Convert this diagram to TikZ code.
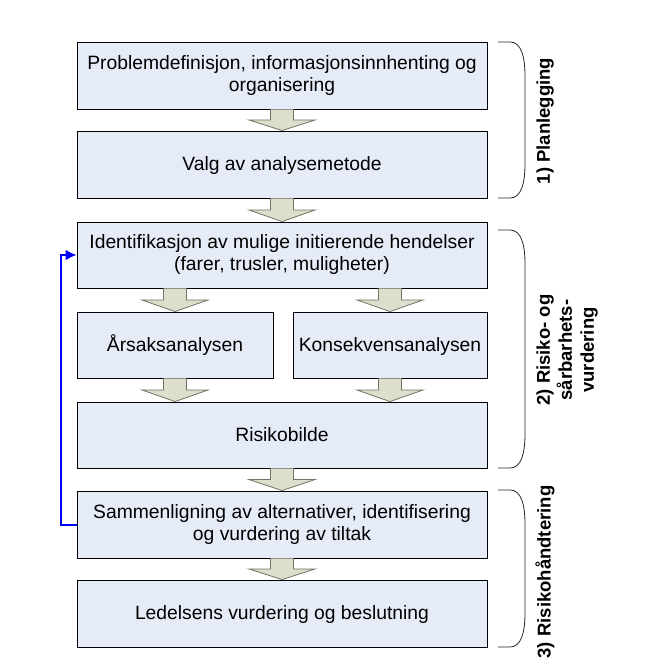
\documentclass[tikz,border=0pt]{standalone}
\usepackage{fontspec}
\setmainfont{Liberation Sans}
\usetikzlibrary{calc,arrows.meta}
\definecolor{boxfill}{RGB}{230,236,247}
\definecolor{arrfill}{RGB}{220,223,203}
\definecolor{arrline}{RGB}{115,115,100}
\definecolor{fbblue}{RGB}{0,0,255}
\tikzset{
  procbox/.style={draw=black, line width=0.9pt, fill=boxfill, minimum height=67pt,
    inner sep=0pt, align=center, font=\fontsize{19.3}{22}\selectfont},
  fatarrow/.style={fill=arrfill, draw=arrline, line width=0.8pt, line join=miter},
  bracket/.style={draw=black!85, line width=0.8pt},
  phaselabel/.style={rotate=90, align=center, inner sep=0pt, font=\fontsize{18.5}{22}\selectfont\bfseries},
}
\newcommand{\fatarr}[2]{%
  \fill[fatarrow, draw=none] let \p1=(#1), \p2=(#2), \p3=($(#1)!.5!(#2)$) in
    (\x1-11.5pt,\y1) -- (\x1-11.5pt,\y3) -- (\x1-33pt,\y3) -- (\x2,\y2) -- (\x1+33pt,\y3) -- (\x1+11.5pt,\y3) -- (\x1+11.5pt,\y1) -- cycle;
  \draw[fatarrow, fill=none] let \p1=(#1), \p2=(#2), \p3=($(#1)!.5!(#2)$) in
    (\x1-11.5pt,\y1) -- (\x1-11.5pt,\y3) -- (\x1-33pt,\y3) -- (\x2,\y2) -- (\x1+33pt,\y3) -- (\x1+11.5pt,\y3) -- (\x1+11.5pt,\y1);}
\newcommand{\phasebrace}[2]{%
  \draw[bracket] (498,#1) -- (510,#1) .. controls (521,#1) and (525,#1+14) .. (525,#1+34)
    -- (525,#2-34) .. controls (525,#2-14) and (521,#2) .. (510,#2) -- (498,#2);}
\begin{document}
\begin{tikzpicture}[x=1pt,y=-1pt]
\useasboundingbox (0,0) rectangle (655,671);

\node[procbox, minimum width=410pt] (prob) at (282,75.5) {Problemdefinisjon, informasjonsinnhenting og\\organisering};
\node[procbox, minimum width=410pt] (valg) at (282,164.5) {Valg av analysemetode\vphantom{Åg}};
\node[procbox, minimum width=410pt, minimum height=66pt] (ident) at (282,255) {Identifikasjon av mulige initierende hendelser\\(farer, trusler, muligheter)};
\node[procbox, minimum width=196pt, minimum height=66pt] (aars) at (175,345) {Årsaksanalysen\vphantom{Åg}};
\node[procbox, minimum width=194pt, minimum height=66pt] (kons) at (390,345) {Konsekvensanalysen\vphantom{Åg}};
\node[procbox, minimum width=410pt, minimum height=66pt] (risk) at (282,435) {Risikobilde\vphantom{Åg}};
\node[procbox, minimum width=410pt] (samm) at (282,524.5) {Sammenligning av alternativer, identifisering\\og vurdering av tiltak};
\node[procbox, minimum width=410pt] (led) at (282,613.5) {Ledelsens vurdering og beslutning\vphantom{Åg}};

\fatarr{prob.south}{valg.north}
\fatarr{valg.south}{ident.north}
\fatarr{ident.south -| aars.north}{aars.north}
\fatarr{ident.south -| kons.north}{kons.north}
\fatarr{aars.south}{aars.south |- risk.north}
\fatarr{kons.south}{kons.south |- risk.north}
\fatarr{risk.south}{samm.north}
\fatarr{samm.south}{led.north}

\draw[fbblue, line width=2pt, -{Latex[length=11pt,width=11pt]}] (samm.west) -- ++(-16pt,0) |- (ident.west);

\phasebrace{42}{198}
\phasebrace{230}{468}
\phasebrace{490}{647}

\node[phaselabel] (l1) at (545,121) {1) Planlegging};
\node[phaselabel] (l2) at (567,350) {2) Risiko- og\\sårbarhets-\\vurdering};
\node[phaselabel] (l3) at (545,572) {3) Risikohåndtering};
\end{tikzpicture}
\end{document}
